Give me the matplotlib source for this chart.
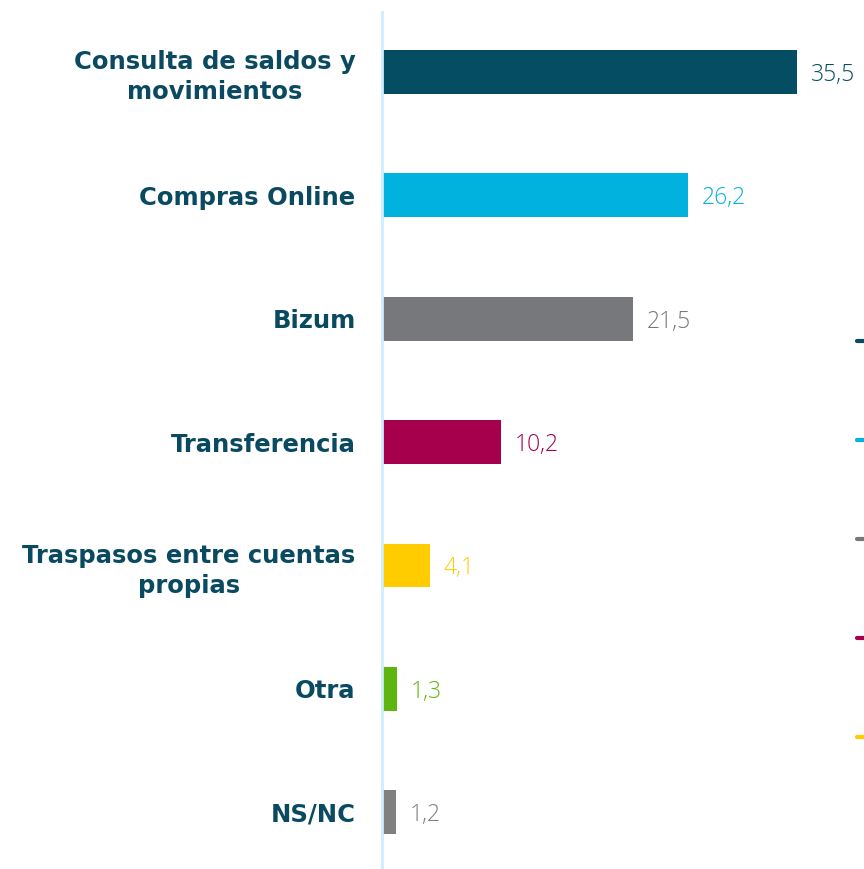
import matplotlib.pyplot as plt
from matplotlib.lines import Line2D

# datos
categorias = ["Consulta de saldos y\nmovimientos", "Compras Online", "Bizum",
              "Transferencia", "Traspasos entre cuentas\npropias", "Otra", "NS/NC"]
valores = [35.5, 26.2, 21.5, 10.2, 4.1, 1.3, 1.2]
etiquetas = ["35,5", "26,2", "21,5", "10,2", "4,1", "1,3", "1,2"]
colores = ["#054d63", "#00b2dd", "#77787b", "#a6004d", "#ffcc00", "#5fb50f", "#808080"]

# marcas recortadas en el borde derecho (leyenda de otro gráfico)
marcas_colores = ["#054d63", "#00b2dd", "#77787b", "#a6004d", "#ffcc00"]
marcas_y = [341, 440, 539, 638, 737]

plt.rcParams['font.family'] = ['DejaVu Sans']

fig = plt.figure(figsize=(8.64, 8.69), dpi=100)
W, H = 864, 869
ax = fig.add_axes([382 / W, 0, (W - 382) / W, (869 - 12) / H])

pos = list(range(len(valores)))
ax.barh(pos, valores, height=0.356, color=colores)
ax.set_xlim(0, (W - 382) / 11.69)
ax.set_ylim(6.46, -0.486)

for p, v, t, c in zip(pos, valores, etiquetas, colores):
    ax.annotate(t, (v, p), xytext=(10, 0), textcoords='offset points',
                va='center_baseline', ha='left', fontsize=16.5, color=c,
                family=['Open Sans', 'DejaVu Sans'], fontweight='light')

ax.set_yticks(pos)
ax.set_yticklabels(categorias, fontsize=17.5, fontweight='bold', color='#0a4a60',
                   multialignment='center', linespacing=1.3)
ax.tick_params(axis='y', length=0, pad=19)
ax.set_xticks([])

for s in ['top', 'right', 'bottom']:
    ax.spines[s].set_visible(False)
ax.spines['left'].set_color('#cdeefa')
ax.spines['left'].set_linewidth(2)

# marcas del borde derecho
for c, y in zip(marcas_colores, marcas_y):
    fig.add_artist(Line2D([857 / W, 866 / W], [1 - y / H, 1 - y / H], color=c,
                          linewidth=3, solid_capstyle='round'))

fig.savefig("out.png", dpi=100)
